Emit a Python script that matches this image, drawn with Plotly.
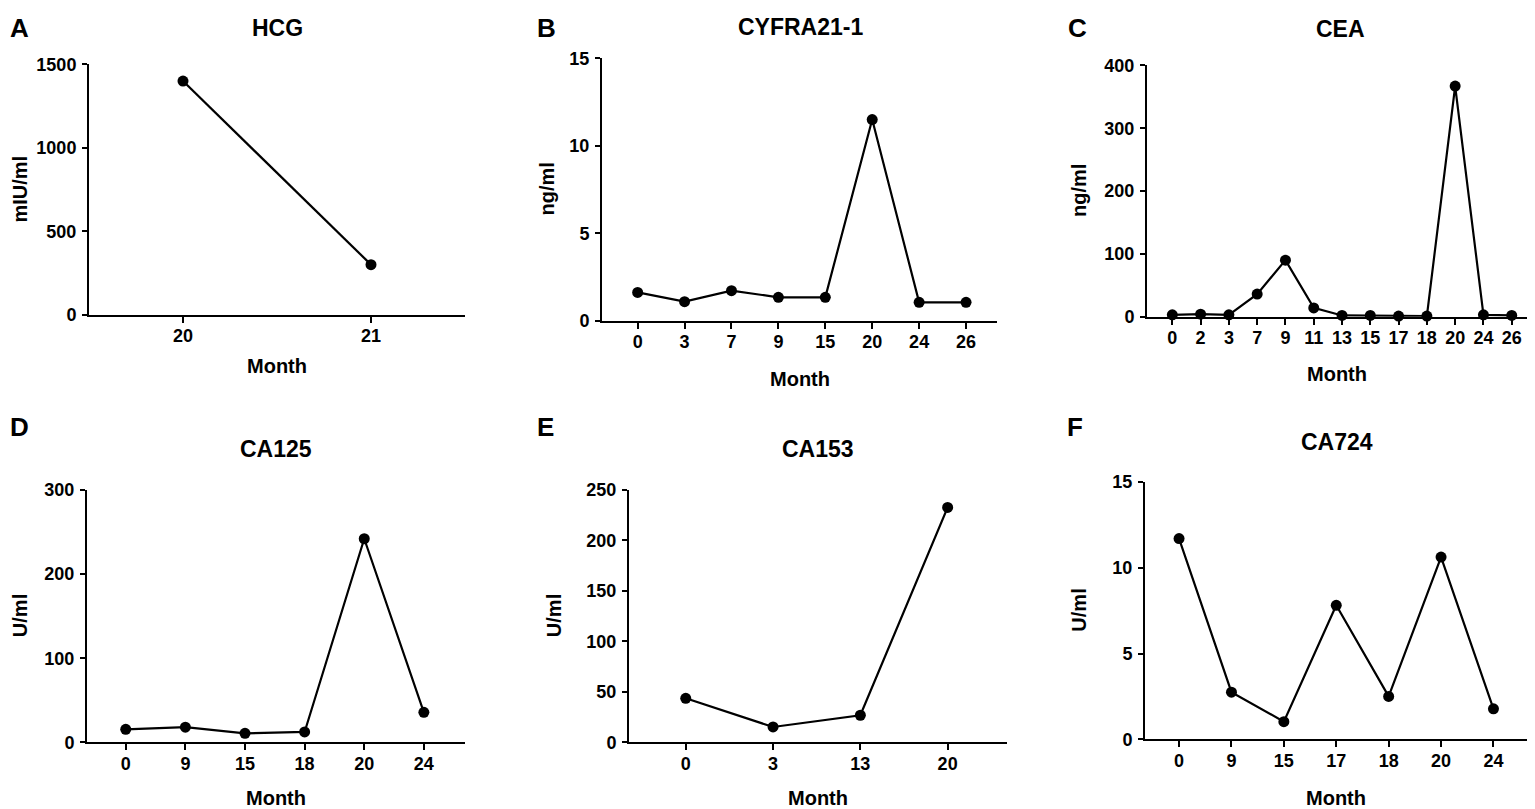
import plotly.graph_objects as go

# the page shows the figure shifted (8px left, ~18px top) and squeezed
# vertically a little, so positions below are mapped back to figure pixels
OFF_X, OFF_Y, SCALE_Y = 8, 17.7, 0.974
W, H = 1519, 812
FONT = "Liberation Sans"

# data
hcg_months = ["20", "21"]
hcg_values = [1400, 300]

cyfra_months = ["0", "3", "7", "9", "15", "20", "24", "26"]
cyfra_values = [1.62, 1.09, 1.72, 1.34, 1.34, 11.5, 1.05, 1.05]

cea_months = ["0", "2", "3", "7", "9", "11", "13", "15", "17", "18", "20", "24", "26"]
cea_values = [3, 4, 3, 36, 90, 14, 2, 2, 1, 1, 367, 3, 2]

ca125_months = ["0", "9", "15", "18", "20", "24"]
ca125_values = [15.5, 18, 10.7, 12.3, 242, 35.7]

ca153_months = ["0", "3", "13", "20"]
ca153_values = [43.6, 15.2, 26.8, 232.7]

ca724_months = ["0", "9", "15", "17", "18", "20", "24"]
ca724_values = [11.7, 2.75, 1.03, 7.81, 2.5, 10.62, 1.78]

panels = [
    dict(letter="A", title="HCG", unit="mIU/ml", x=hcg_months, y=hcg_values, yticks=[0, 500, 1000, 1500]),
    dict(letter="B", title="CYFRA21-1", unit="ng/ml", x=cyfra_months, y=cyfra_values, yticks=[0, 5, 10, 15]),
    dict(letter="C", title="CEA", unit="ng/ml", x=cea_months, y=cea_values, yticks=[0, 100, 200, 300, 400]),
    dict(letter="D", title="CA125", unit="U/ml", x=ca125_months, y=ca125_values, yticks=[0, 100, 200, 300]),
    dict(letter="E", title="CA153", unit="U/ml", x=ca153_months, y=ca153_values, yticks=[0, 50, 100, 150, 200, 250]),
    dict(letter="F", title="CA724", unit="U/ml", x=ca724_months, y=ca724_values, yticks=[0, 5, 10, 15]),
]

# screen-pixel boxes of each plot area and text positions
# (x0, x1, top, bottom, xrange, title xy, y-title x, month y, letter xy)
boxes = [
    (89, 465, 64, 314, [-0.5, 1.5], (277, 28), 20, 365, (19, 28)),
    (602, 997, 58, 320, [-0.76, 7.66], (800, 27), 547, 378, (546, 28)),
    (1147, 1527, 65, 316, [-0.895, 12.54], (1340, 29), 1079, 373, (1077, 28)),
    (87, 465, 489, 741, [-0.65, 5.69], (276, 448), 20, 797, (19, 426)),
    (629, 1007, 489, 741, [-0.65, 3.68], (818, 448), 554, 797, (545, 426)),
    (1145, 1527, 481, 738, [-0.65, 6.64], (1337, 441), 1079, 797, (1075, 426)),
]


def px(x):
    return min(max((x - OFF_X) / W, 0), 1)


def py(y):
    return min(max(1 - (y - OFF_Y) / SCALE_Y / H, 0), 1)


fig = go.Figure()
annotations = []
axis_style = dict(
    showline=True,
    linecolor="black",
    linewidth=2,
    showgrid=False,
    zeroline=False,
    ticks="outside",
    ticklen=6,
    tickwidth=2,
    tickcolor="black",
    tickfont=dict(family=FONT, size=18, color="black", weight="bold"),
)
layout_axes = {}

for i, (p, b) in enumerate(zip(panels, boxes)):
    n = "" if i == 0 else str(i + 1)
    x0, x1, top, bottom, xr, tpos, ytx, mon_y, lpos = b
    fig.add_trace(
        go.Scatter(
            x=p["x"],
            y=p["y"],
            mode="lines+markers",
            line=dict(color="black", width=2.2),
            marker=dict(color="black", size=11),
            cliponaxis=False,
            showlegend=False,
            xaxis="x" + n,
            yaxis="y" + n,
        )
    )
    layout_axes["xaxis" + n] = dict(
        axis_style,
        domain=[px(x0), px(x1)],
        anchor="y" + n,
        type="category",
        range=xr,
        ticklabelstandoff=-2,
    )
    layout_axes["yaxis" + n] = dict(
        axis_style,
        domain=[py(bottom), py(top)],
        anchor="x" + n,
        range=[0, p["yticks"][-1]],
        tickvals=p["yticks"],
        ticklen=5,
        ticklabelstandoff=2,
    )
    annotations += [
        dict(text=p["title"], x=px(tpos[0]), y=py(tpos[1]), font=dict(size=23)),
        dict(text=p["unit"], x=px(ytx), y=py((top + bottom) / 2), textangle=-90, font=dict(size=20)),
        dict(text="Month", x=px((x0 + x1) / 2), y=py(mon_y), font=dict(size=20)),
        dict(text=p["letter"], x=px(lpos[0]), y=py(lpos[1]), font=dict(size=26)),
    ]

for a in annotations:
    a.update(xref="paper", yref="paper", showarrow=False, xanchor="center", yanchor="middle")
    a["font"].update(family=FONT, color="black", weight="bold")

fig.update_layout(
    width=W,
    height=H,
    margin=dict(l=0, r=0, t=0, b=0),
    paper_bgcolor="white",
    plot_bgcolor="white",
    annotations=annotations,
    **layout_axes,
)

fig.write_html("out.html")
